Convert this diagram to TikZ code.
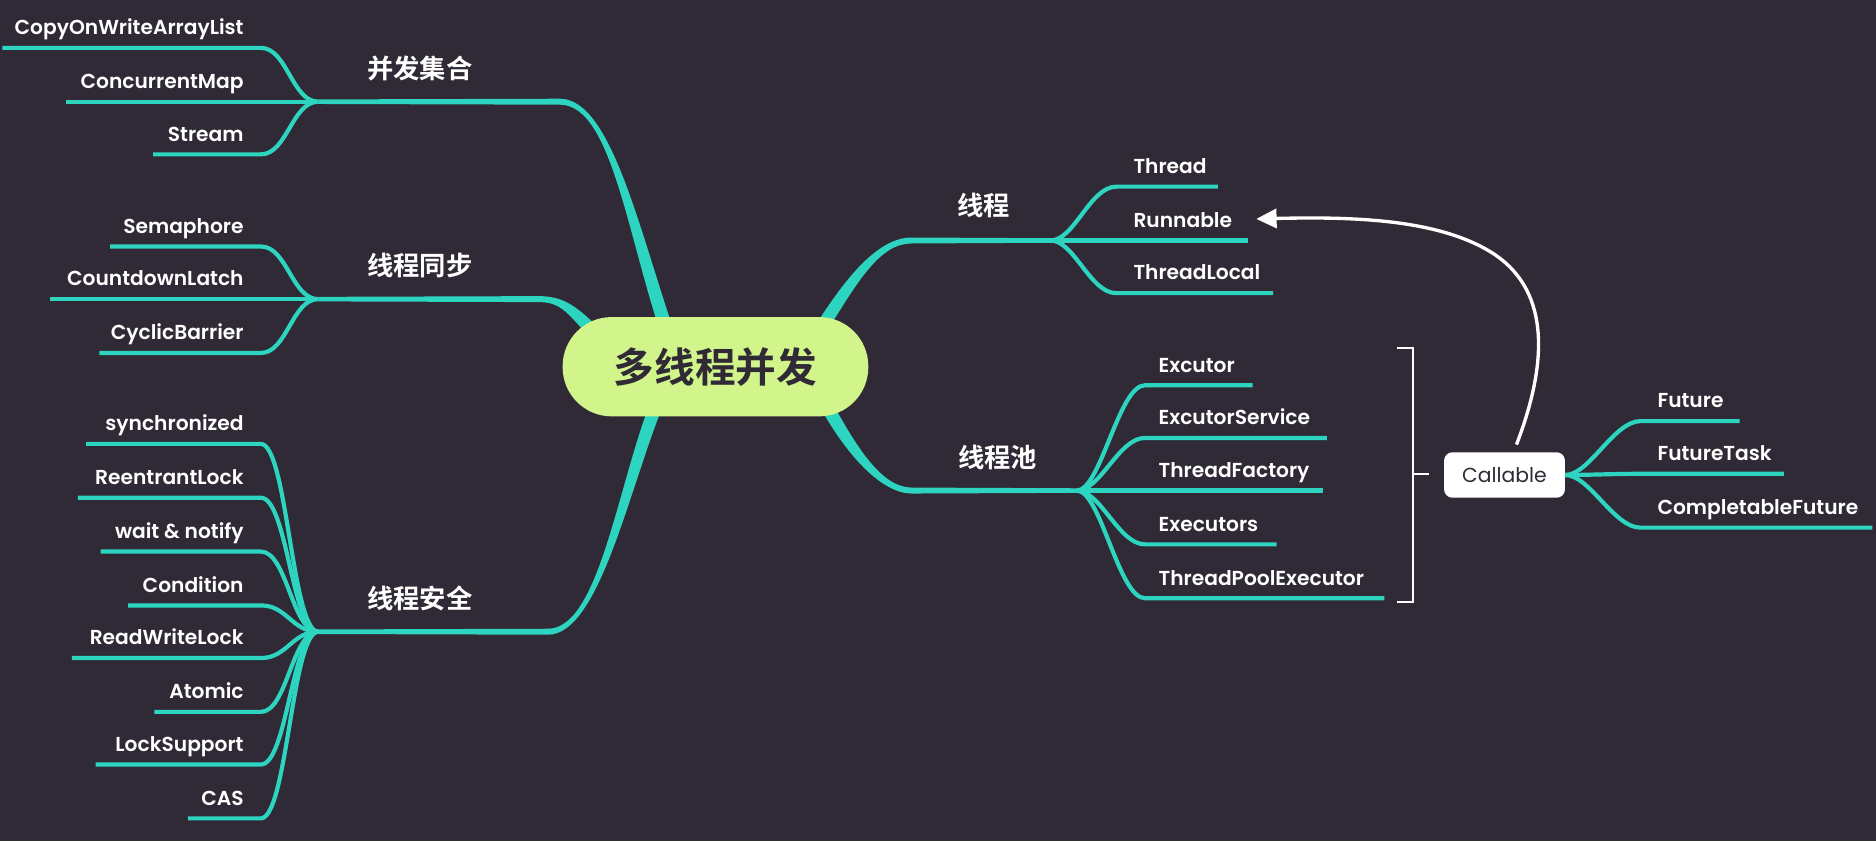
\documentclass[tikz,border=0pt]{standalone}
\usepackage{fontspec}
\setmainfont{Poppins}[BoldFont={Poppins SemiBold}]
\newfontfamily\cjkb{Noto Sans CJK SC Bold}
\usetikzlibrary{calc,arrows.meta}
\definecolor{bgc}{HTML}{2F2A35}
\definecolor{branchc}{HTML}{2DD4BF}
\definecolor{centerc}{HTML}{D1F58A}
% tapered main branch: J, H, c1, c2, C, half width at H, offset vector at C
\newcommand{\mytrunk}[7]{\fill[branchc] ($#1+(0,-1.9)$) -- ($#2+(0,-#6)$) .. controls ($#3+(0,-#6)$) and ($#4+#7$) .. ($#5+#7$) -- ($#5-#7$) .. controls ($#4-#7$) and ($#3+(0,#6)$) .. ($#2+(0,#6)$) -- ($#1+(0,1.9)$) -- cycle;}
% left topic: name, text, y, start x, junction
\newcommand{\mkleft}[5]{%
  \coordinate (#1s) at (#4,#3);
  \coordinate (#1e) at (218,#3);
  \node[lbl,anchor=base east] (#1) at (204,#3-11) {#2};
  \draw[sub] (#1s) -- (#1e) .. controls +(22,0) and +(-22,0) .. #5;}
% right topic: name, text, y, start x, end x, label x, junction
\newcommand{\mkright}[7]{%
  \coordinate (#1s) at (#4,#3);
  \coordinate (#1e) at (#5,#3);
  \node[lbl,anchor=base west] (#1) at (#6,#3-11) {#2};
  \draw[sub] #7 .. controls +(20,0) and +(-22,0) .. (#1s) -- (#1e);}
\begin{document}
\begin{tikzpicture}[x=0.5pt,y=-0.5pt,
  sub/.style={draw=branchc,line width=1.75pt},
  lbl/.style={text=white,font=\fontsize{8.45}{10}\selectfont\bfseries,inner sep=0pt},
  grp/.style={text=white,font=\cjkb\fontsize{11}{12}\selectfont,inner sep=0pt},
  root/.style={fill=centerc,text=bgc,rounded corners=20.5pt,minimum width=127.75pt,minimum height=41.5pt,font=\cjkb\fontsize{17}{18}\selectfont,inner sep=0pt},
  callbox/.style={fill=white,text=bgc,rounded corners=3.5pt,minimum width=50.5pt,minimum height=19pt,font=\fontsize{8.5}{10}\selectfont,inner sep=0pt},
  arrowline/.style={draw=white,line width=1.4pt,-{Triangle[length=8.5pt,width=8pt]}},
  bracketline/.style={draw=white,line width=0.9pt}]
\fill[bgc] (0,0) rectangle (1568,703);
\useasboundingbox (0,0) rectangle (1568,703);

% junctions
\coordinate (JA) at (266,85);
\coordinate (JB) at (266,250);
\coordinate (JC) at (266,528);
\coordinate (JD) at (878,201);
\coordinate (JE) at (900,410);

% main tapered branches
\coordinate (HA) at (468,85); \coordinate (A1) at (512,85); \coordinate (A2) at (530,200); \coordinate (CA) at (562,290);
\mytrunk{(JA)}{(HA)}{(A1)}{(A2)}{(CA)}{2.5}{(5.5,-1.3)}
\coordinate (HB) at (450,250); \coordinate (B1) at (470,250); \coordinate (B2) at (478,258); \coordinate (CB) at (503,285);
\mytrunk{(JB)}{(HB)}{(B1)}{(B2)}{(CB)}{2.5}{(4.0,-3.7)}
\coordinate (HC) at (458,528); \coordinate (C1) at (502,528); \coordinate (C2) at (522,400); \coordinate (CC) at (552,330);
\mytrunk{(JC)}{(HC)}{(C1)}{(C2)}{(CC)}{2.5}{(-5.0,-2.1)}
\coordinate (HD) at (762,201); \coordinate (D1) at (735,201); \coordinate (D2) at (712,232); \coordinate (CD) at (680,285);
\mytrunk{(JD)}{(HD)}{(D1)}{(D2)}{(CD)}{2.5}{(-4.7,-2.8)}
\coordinate (HE) at (762,410); \coordinate (E1) at (738,410); \coordinate (E2) at (712,380); \coordinate (CE) at (685,328);
\mytrunk{(JE)}{(HE)}{(E1)}{(E2)}{(CE)}{2.5}{(4.9,-2.5)}

% group labels
\node[grp] (gA) at (351,57) {并发集合};
\node[grp] (gB) at (351,222) {线程同步};
\node[grp] (gC) at (351,500) {线程安全};
\node[grp] (gD) at (822,172) {线程};
\node[grp] (gE) at (834,382) {线程池};

% left topics
\mkleft{cow}{CopyOnWriteArrayList}{40}{2}{(JA)}
\mkleft{cm}{ConcurrentMap}{85}{55}{(JA)}
\mkleft{st}{Stream}{129}{128}{(JA)}
\mkleft{sem}{Semaphore}{206}{92}{(JB)}
\mkleft{cdl}{CountdownLatch}{250}{42}{(JB)}
\mkleft{cb}{CyclicBarrier}{295}{83}{(JB)}
\mkleft{syn}{synchronized}{371}{72}{(JC)}
\mkleft{rl}{ReentrantLock}{416}{65}{(JC)}
\mkleft{wn}{wait \& notify}{461}{84}{(JC)}
\mkleft{cond}{Condition}{506}{107}{(JC)}
\mkleft{rwl}{ReadWriteLock}{550}{60}{(JC)}
\mkleft{atom}{Atomic}{595}{129}{(JC)}
\mkleft{ls}{LockSupport}{639}{80}{(JC)}
\mkleft{cas}{CAS}{684}{157}{(JC)}

% right topics
\mkright{thr}{Thread}{156}{933}{1018}{947}{(JD)}
\mkright{run}{Runnable}{201}{933}{1043}{947}{(JD)}
\mkright{tl}{ThreadLocal}{245}{933}{1064}{947}{(JD)}
\mkright{exc}{Excutor}{322}{957}{1047}{968}{(JE)}
\mkright{es}{ExcutorService}{366}{957}{1109}{968}{(JE)}
\mkright{tf}{ThreadFactory}{410}{957}{1106}{968}{(JE)}
\mkright{exs}{Executors}{455}{957}{1067}{968}{(JE)}
\mkright{tpe}{ThreadPoolExecutor}{500}{957}{1157}{968}{(JE)}

% callable node
\node[callbox] (callable) at (1257.5,397) {Callable};
\coordinate (JF) at (callable.east);
\mkright{fut}{Future}{352}{1371}{1454}{1385}{(JF)}
\mkright{ft}{FutureTask}{396}{1371}{1491}{1385}{(JF)}
\mkright{cf}{CompletableFuture}{441}{1371}{1565}{1385}{(JF)}

% bracket
\coordinate (brT) at (1168,291);
\coordinate (brB) at (1168,503);
\coordinate (brM) at (1194,396);
\draw[bracketline] (brT) -- (1181,291) -- (1181,503) -- (brB);
\draw[bracketline] (1181,396) -- (brM);

% arrow Callable -> Runnable
\coordinate (arS) at ($(callable.north)+(10,-6)$);
\coordinate (arT) at (1050,183);
\draw[arrowline] (arS) .. controls (1295,300) and (1295,240) .. (1245,210) .. controls (1200,183) and (1130,181) .. (arT);

% root
\node[root] (root) at (598,306.5) {多线程并发};
\end{tikzpicture}
\end{document}
